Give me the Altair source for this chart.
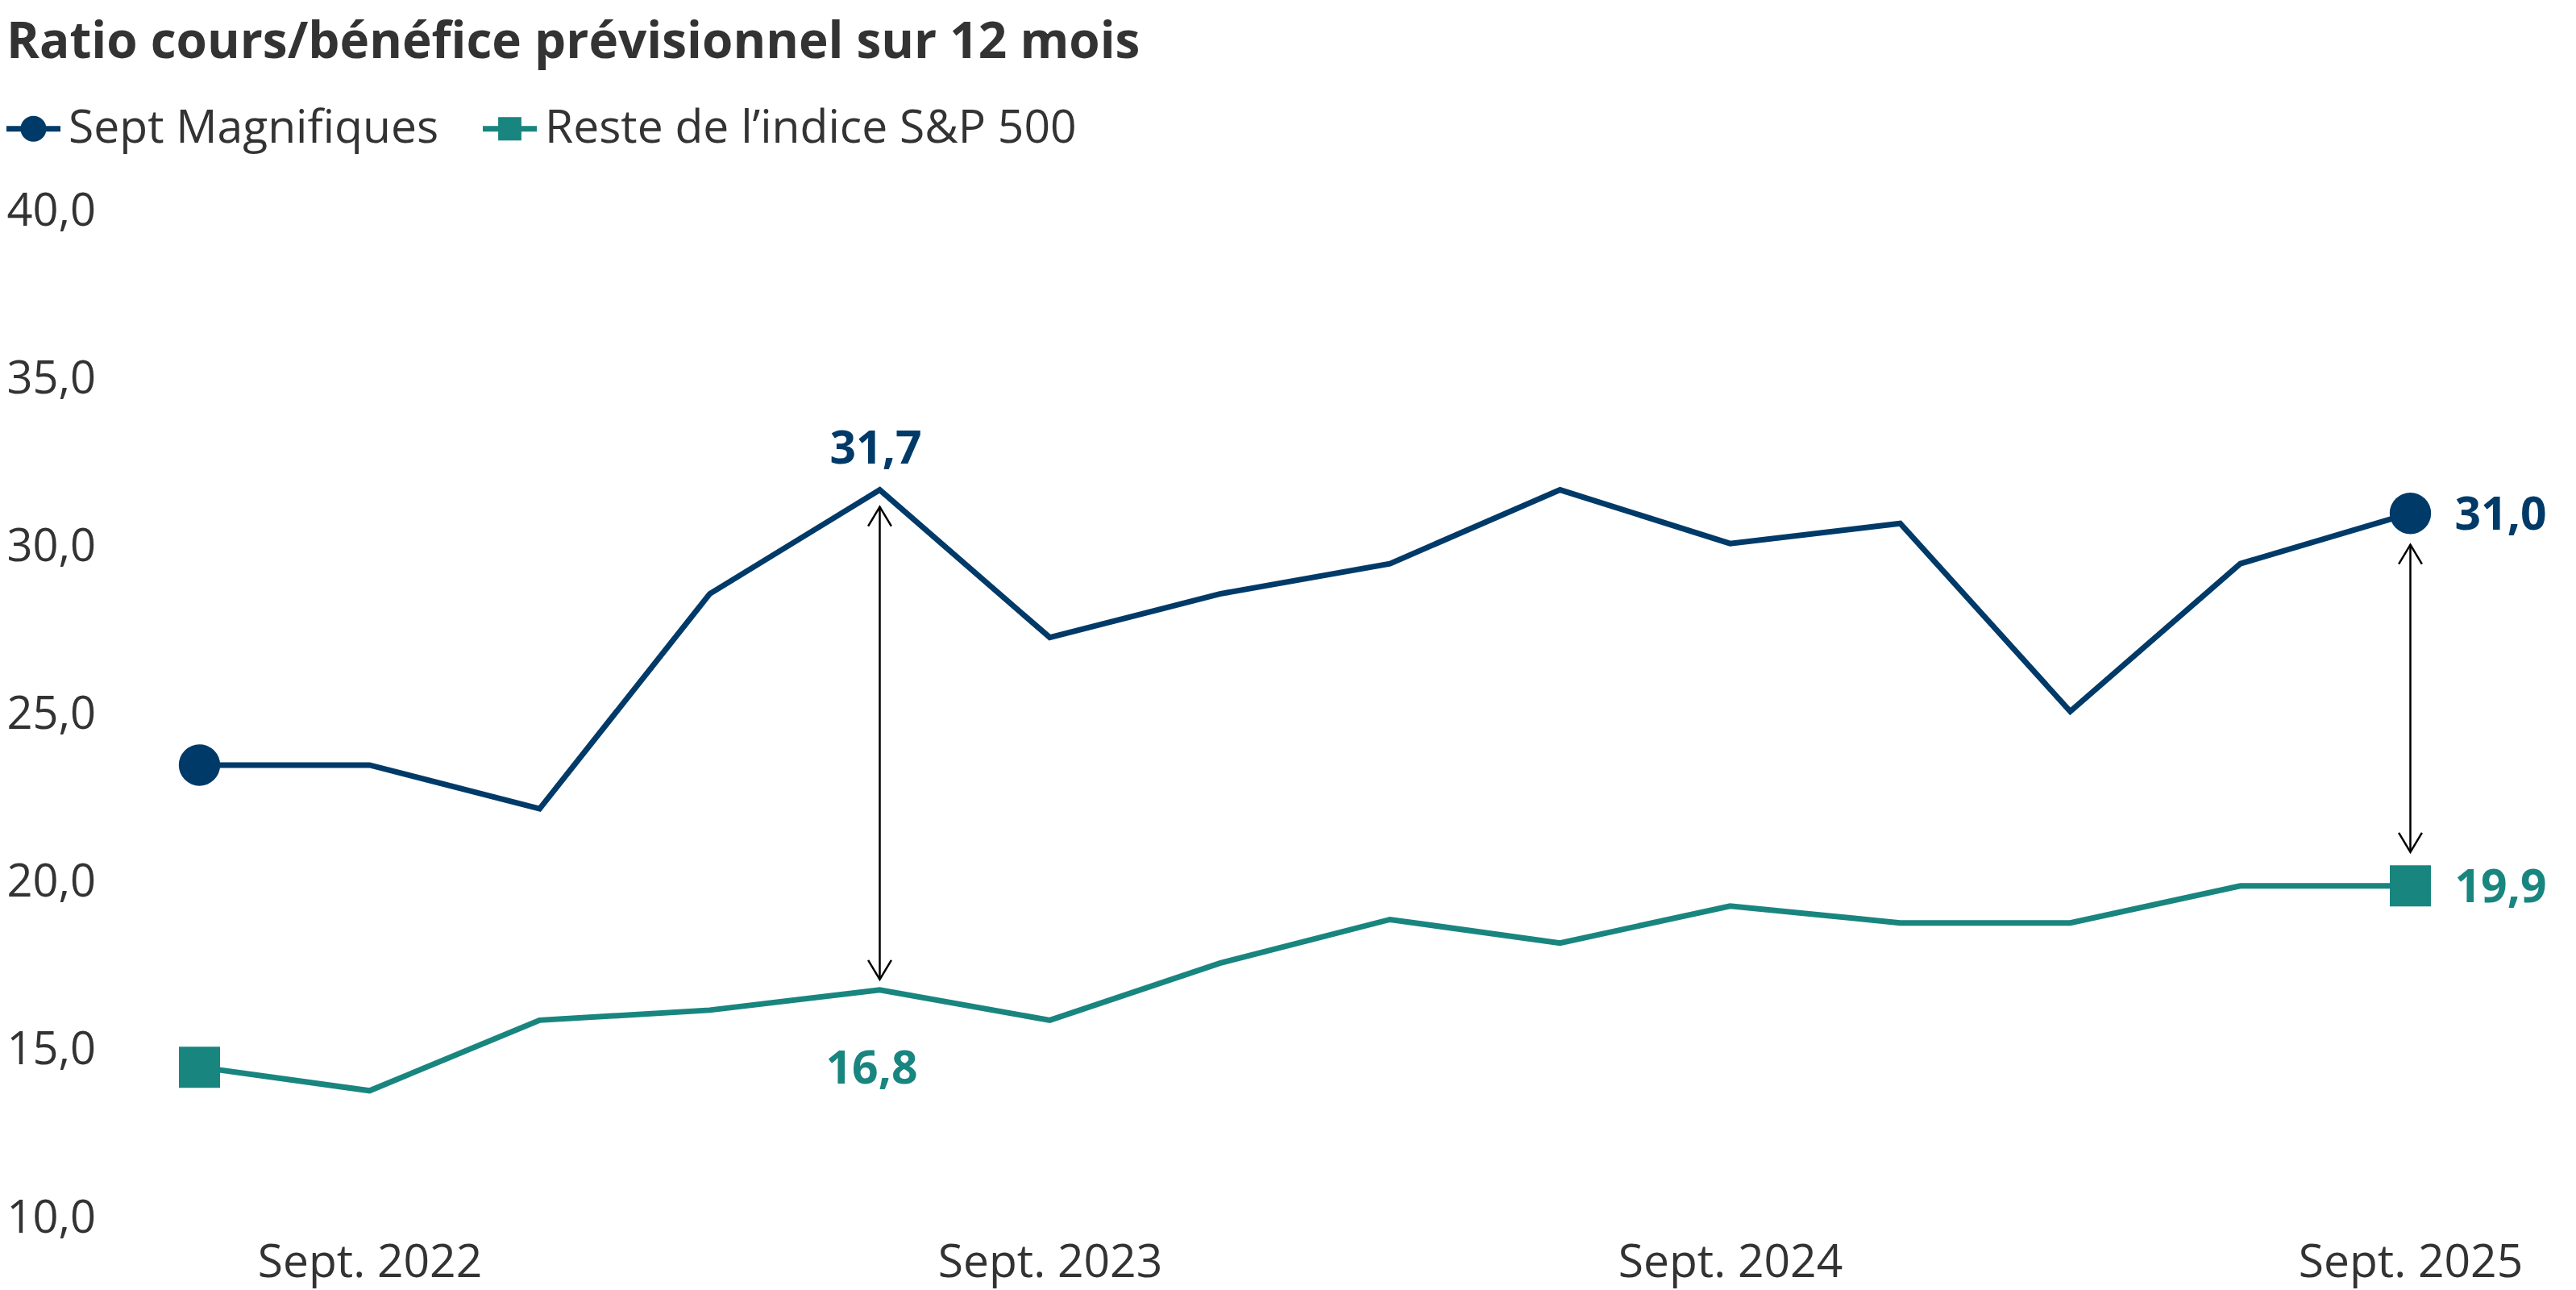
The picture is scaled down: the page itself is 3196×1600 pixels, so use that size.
import altair as alt
import pandas as pd

# ---------------- data ----------------
quarters = ["Juin 2022", "Sept. 2022", "Déc. 2022", "Mars 2023", "Juin 2023",
            "Sept. 2023", "Déc. 2023", "Mars 2024", "Juin 2024", "Sept. 2024",
            "Déc. 2024", "Mars 2025", "Juin 2025", "Sept. 2025"]
tick_labels = ["Sept. 2022", "Sept. 2023", "Sept. 2024", "Sept. 2025"]
series_names = ["Sept Magnifiques", "Reste de l\u2019indice S&P 500"]
mag7 = [23.5, 23.5, 22.2, 28.6, 31.7, 27.3, 28.6, 29.5, 31.7, 30.1, 30.7, 25.1, 29.5, 31.0]
rest = [14.5, 13.8, 15.9, 16.2, 16.8, 15.9, 17.6, 18.9, 18.2, 19.3, 18.8, 18.8, 19.9, 19.9]
y_ticks = [10, 15, 20, 25, 30, 35, 40]

ann_quarter = ["Juin 2023", "Juin 2023", "Sept. 2025", "Sept. 2025"]
ann_series = [series_names[0], series_names[1], series_names[0], series_names[1]]
ann_value = [31.7, 16.8, 31.0, 19.9]

arrow_quarter = ["Juin 2023", "Sept. 2025"]
arrow_top = [31.7, 31.0]
arrow_bottom = [16.8, 19.9]

title_text = "Ratio cours/bénéfice prévisionnel sur 12 mois"

# ---------------- styles ----------------
NAVY = "#003A68"
TEAL = "#19857F"
TXT = "#333333"
FONT = "Open Sans"
colors = [NAVY, TEAL]

rows = []
for i, q in enumerate(quarters):
    rows.append({"quarter": q, "idx": i, "series": series_names[0], "value": mag7[i]})
    rows.append({"quarter": q, "idx": i, "series": series_names[1], "value": rest[i]})
df = pd.DataFrame(rows)

ann_df = pd.DataFrame({"quarter": ann_quarter, "series": ann_series, "value": ann_value})
arrow_df = pd.DataFrame({"quarter": arrow_quarter, "value": arrow_top, "bottom": arrow_bottom})

x_enc = alt.X(
    "quarter:O",
    sort=quarters,
    scale=alt.Scale(domain=quarters, type="point", padding=0.5),
    axis=alt.Axis(values=tick_labels, labelAngle=0, ticks=False, domain=False,
                  grid=False, labelPadding=27, labelFontSize=57, labelFont=FONT,
                  labelColor=TXT, labelLimit=1000, title=None),
)
y_scale = alt.Scale(domain=[10, 40], nice=False, zero=False)
y_enc = alt.Y(
    "value:Q",
    scale=y_scale,
    axis=alt.Axis(values=y_ticks, labelAlign="left", labelBaseline="middle",
                  labelPadding=134, ticks=False, domain=False, grid=False,
                  title=None, labelFontSize=56, labelFont=FONT, labelColor=TXT,
                  labelLimit=1000,
                  labelExpr="replace(format(datum.value, '.1f'), '.', ',')"),
)

base = alt.Chart(df)

lines = []
for s, c in zip(series_names, colors):
    lines.append(
        base.transform_filter(alt.datum.series == s)
        .mark_line(color=c, strokeWidth=7, strokeJoin="miter")
        .encode(x=x_enc, y=y_enc, order="idx:Q")
    )

first_last = (alt.datum.idx == 0) | (alt.datum.idx == len(quarters) - 1)
markers = [
    base.transform_filter((alt.datum.series == series_names[0]) & first_last)
    .mark_point(shape="circle", filled=True, size=2640, color=NAVY, opacity=1)
    .encode(x=x_enc, y=y_enc),
    base.transform_filter((alt.datum.series == series_names[1]) & first_last)
    .mark_point(shape="square", filled=True, size=2600, color=TEAL, opacity=1)
    .encode(x=x_enc, y=y_enc),
]

# legend (carried by an empty layer with colour + shape)
sym_circle = ("M-1,-0.105H1V0.105H-1Z "
              "M0.48,0A0.48,0.48 0 1,1 -0.48,0A0.48,0.48 0 1,1 0.48,0Z")
sym_square = "M-1,-0.105H1V0.105H-1Z M-0.43,-0.43H0.43V0.43H-0.43Z"
leg = alt.Legend(title=None, orient="none", direction="horizontal",
                 legendX=-134, legendY=-136, symbolSize=4489, symbolStrokeWidth=0,
                 labelFont=FONT, labelFontSize=57, labelColor=TXT, labelOffset=10,
                 columnPadding=54, padding=0, labelLimit=1000)
legend_layer = (
    base.transform_filter("false")
    .mark_point(filled=True, opacity=1)
    .encode(
        x=x_enc, y=y_enc,
        color=alt.Color("series:N", scale=alt.Scale(domain=series_names, range=colors), legend=leg),
        shape=alt.Shape("series:N", scale=alt.Scale(domain=series_names, range=[sym_circle, sym_square]), legend=leg),
    )
)

# annotations
ann_base = alt.Chart(ann_df).transform_calculate(
    label="replace(format(datum.value, '.1f'), '.', ',')"
)
txt_style = dict(font=FONT, fontSize=57, fontWeight="bold", baseline="middle")
annots = [
    ann_base.transform_filter((alt.datum.quarter == ann_quarter[0]) & (alt.datum.series == ann_series[0]))
    .mark_text(align="center", dx=-5, dy=-50, color=NAVY, **txt_style)
    .encode(x=x_enc, y=y_enc, text="label:N"),
    ann_base.transform_filter((alt.datum.quarter == ann_quarter[1]) & (alt.datum.series == ann_series[1]))
    .mark_text(align="center", dx=-10, dy=99, color=TEAL, **txt_style)
    .encode(x=x_enc, y=y_enc, text="label:N"),
    ann_base.transform_filter((alt.datum.quarter == ann_quarter[2]) & (alt.datum.series == ann_series[2]))
    .mark_text(align="left", dx=55, dy=3, color=NAVY, **txt_style)
    .encode(x=x_enc, y=y_enc, text="label:N"),
    ann_base.transform_filter((alt.datum.quarter == ann_quarter[3]) & (alt.datum.series == ann_series[3]))
    .mark_text(align="left", dx=55, dy=3, color=TEAL, **txt_style)
    .encode(x=x_enc, y=y_enc, text="label:N"),
]

# double-headed arrows
chev_up = "M-0.6,1L0,0L0.6,1"
chev_down = "M-0.6,-1L0,0L0.6,-1"
arrow_gaps = [(21, 13), (39, 42)]
arrows = []
for q, (gt, gb) in zip(arrow_quarter, arrow_gaps):
    a = alt.Chart(arrow_df).transform_filter(alt.datum.quarter == q)
    arrows.append(
        a.mark_rule(color="black", strokeWidth=2.5, yOffset=gt, y2Offset=-gb)
        .encode(x=x_enc, y=y_enc, y2="bottom:Q")
    )
    arrows.append(
        a.mark_point(shape=chev_up, filled=False, color="black", strokeWidth=2.5,
                     size=2304, opacity=1, yOffset=gt)
        .encode(x=x_enc, y=y_enc)
    )
    arrows.append(
        a.transform_calculate(value="datum.bottom")
        .mark_point(shape=chev_down, filled=False, color="black", strokeWidth=2.5,
                    size=2304, opacity=1, yOffset=-gb)
        .encode(x=x_enc, y=y_enc)
    )

chart = (
    alt.layer(*lines, *arrows, *markers, *annots, legend_layer)
    .properties(
        width=2954,
        height=1249,
        padding={"left": 0, "top": 14, "right": 10, "bottom": 5},
        title=alt.Title(title_text, anchor="start", frame="bounds", font=FONT,
                        fontSize=62, fontWeight="bold", color=TXT, offset=41),
    )
    .configure(background="white")
    .configure_view(stroke=None)
)

chart.save("out.html", embed_options={"renderer": "svg", "actions": False})
